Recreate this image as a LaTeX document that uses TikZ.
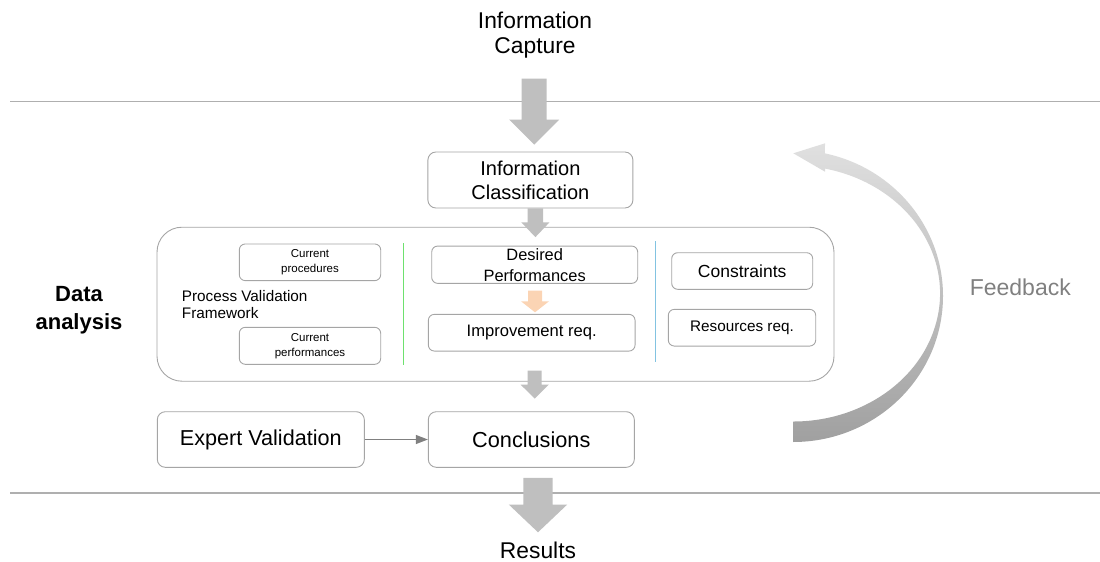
\documentclass[tikz,border=0pt]{standalone}
\usepackage{fontspec}
\setmainfont{Liberation Sans}
\usetikzlibrary{calc,arrows.meta}

\definecolor{rule}{RGB}{175,175,175}
\definecolor{boxline}{RGB}{165,165,165}
\definecolor{blockfill}{RGB}{191,191,191}
\definecolor{sepgreen}{RGB}{110,225,110}
\definecolor{sepblue}{RGB}{130,195,225}
\definecolor{softorange}{RGB}{251,212,180}
\definecolor{fbtop}{RGB}{224,224,224}
\definecolor{fbbottom}{RGB}{160,160,160}
\definecolor{fbtext}{RGB}{128,128,128}
\definecolor{thinarrow}{RGB}{128,128,128}

\newcommand\fsz[2]{\fontsize{#1}{#2}\selectfont}
% vertical block arrow: #1 start (x and top), #2 end (tip y),
% #3 half shaft width, #4 half head width, #5 head length, #6 fill
\newcommand\blockarrow[6]{%
  \fill[#6] let \p1=(#1), \p2=(#2) in
    (\x1-#3,\y1) -- (\x1+#3,\y1) -- (\x1+#3,\y2+#5) -- (\x1+#4,\y2+#5)
    -- (\x1,\y2) -- (\x1-#4,\y2+#5) -- (\x1-#3,\y2+#5) -- cycle;}

\begin{document}
\begin{tikzpicture}[x=1pt,y=-1pt,
  panel/.style={draw=boxline,line width=0.9pt,rounded corners=8pt,
                inner sep=0pt,align=center,fill=white},
  smallpanel/.style={panel,rounded corners=6pt},
  label/.style={inner sep=0pt,align=center},
  separator/.style={line width=1pt}]
\useasboundingbox (0,0) rectangle (1100,562);

% horizontal rules
\coordinate (ruleTL) at (10,101.7);
\coordinate (ruleTR) at (1100,101.7);
\coordinate (ruleBL) at (10,493);
\coordinate (ruleBR) at (1100,493);
\draw[rule,line width=1.2pt] (ruleTL) -- (ruleTR);
\draw[rule,line width=1.2pt] (ruleBL) -- (ruleBR);

% texts outside the boxes
\node[label,font=\fsz{22.8}{25}] (cap) at (535,35) {Information\\Capture};
\node[label,font=\fsz{22.8}{26}, anchor=base] (res) at (538,558) {Results};
\node[label,font=\bfseries\fsz{22}{27.7}] (da) at (79,310.5) {Data\\analysis};
\node[label,font=\fsz{23}{26},text=fbtext,anchor=base] (fb) at (1020.3,295.7) {Feedback};

% classification
\node[panel,minimum width=205pt,minimum height=56pt,font=\fsz{20}{24}] (cls) at (530.4,180) {Information\\Classification};

% data analysis frame
\node[panel,rounded corners=25pt,minimum width=677pt,minimum height=154pt,fill=none] (frame) at (495.5,304.2) {};

% left column
\node[smallpanel,minimum width=141.4pt,minimum height=36.7pt,font=\fsz{11.5}{15}] (proc) at (310,262.3) {Current\\procedures};
\node[smallpanel,minimum width=141.4pt,minimum height=37pt,font=\fsz{11.5}{15}] (perf) at (310,345.8) {Current\\performances};
\node[label,align=left,anchor=west,font=\fsz{15.3}{16.7}] (pvf) at (181.7,304.4) {Process Validation\\Framework};

% separators
\coordinate (sepGt) at (403.3,243);
\coordinate (sepGb) at (403.3,365);
\coordinate (sepBt) at (655,241);
\coordinate (sepBb) at (655,361.7);
\draw[sepgreen,separator] (sepGt) -- (sepGb);
\draw[sepblue,separator] (sepBt) -- (sepBb);

% middle column
\node[smallpanel,minimum width=206pt,minimum height=37.3pt,font=\fsz{16.4}{21}] (des) at (534.7,264.7) {Desired\\Performances};
\node[smallpanel,minimum width=206.7pt,minimum height=36.7pt,font=\fsz{16.6}{20}] (imp) at (531.7,332.7) {Improvement req.};

% right column
\node[smallpanel,minimum width=141pt,minimum height=36.6pt,font=\fsz{17.5}{20}] (con) at (742.2,271) {Constraints};
\node[smallpanel,minimum width=147.4pt,minimum height=36.7pt,font=\fsz{15.3}{18}] (rq) at (742,327.7) {Resources req.};

% bottom row
\node[panel,minimum width=207pt,minimum height=55.6pt,font=\fsz{21.6}{24}] (exp) at (260.8,439.5) {Expert Validation};
\node[panel,minimum width=206pt,minimum height=55.6pt,font=\fsz{21.7}{24}] (conc) at (531.3,439.5) {Conclusions};
\draw[thinarrow,line width=1.2pt,-{Triangle[length=12pt,width=9pt]}] (exp.east) -- (conc.west);

% block arrows
\blockarrow{$(cap.south)+(-0.8,20.4)$}{$(cls.north)+(0,-7)$}{12.5pt}{25pt}{25pt}{blockfill}
\blockarrow{$(cls.south)+(5,0)$}{$(frame.north)+(0,10.4)$}{7.8pt}{14pt}{14.7pt}{blockfill}
\blockarrow{$(des.south)+(0.3,6.7)$}{$(imp.north)+(0,-1.6)$}{7pt}{14pt}{11pt}{softorange}
\blockarrow{$(imp.south)+(3,19)$}{$(conc.north)+(0,-12.7)$}{7pt}{14.2pt}{14pt}{blockfill}
\blockarrow{$(conc.south)+(6.7,10)$}{$(res.north)+(0,-9)$}{14.7pt}{29.2pt}{27.7pt}{blockfill}

% feedback loop arrow
\coordinate (fbTail) at (793,442);
\coordinate (fbHeadA) at (825,143.3);
\coordinate (fbTip) at (793.3,153.3);
\coordinate (fbHeadB) at (825,171.7);
\coordinate (fbInner) at (825.1,168.6);
\shade[top color=fbtop,bottom color=fbbottom]
  (fbTail) arc[start angle=90,end angle=-77.7,x radius=150,y radius=146]
  -- (fbHeadA) -- (fbTip) -- (fbHeadB) -- (fbInner)
  arc[start angle=-77.4,end angle=90,x radius=147,y radius=128] -- cycle;
\end{tikzpicture}
\end{document}
